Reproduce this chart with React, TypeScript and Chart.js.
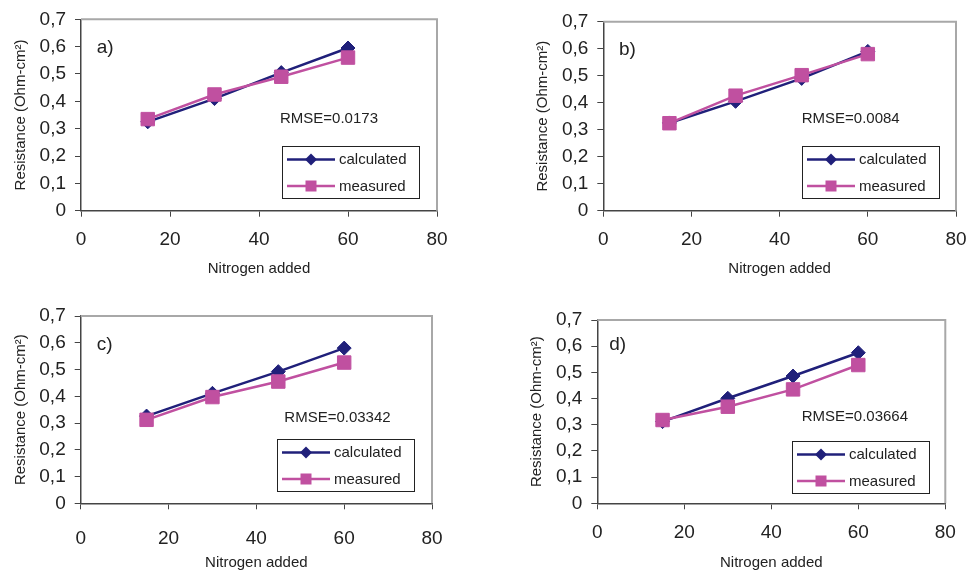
import React, { useEffect, useRef } from 'react';
import { Chart, registerables } from 'chart.js';

Chart.register(...registerables);

// ---------- data ----------
const nitrogen = [15, 30, 45, 60];
const seriesNames = ['calculated', 'measured'];
const panelLabels = ['a)', 'b)', 'c)', 'd)'];
const rmseLabels = ['RMSE=0.0173', 'RMSE=0.0084', 'RMSE=0.03342', 'RMSE=0.03664'];

const calculatedA = [0.325, 0.41, 0.505, 0.595];
const measuredA = [0.335, 0.425, 0.49, 0.56];
const calculatedB = [0.325, 0.405, 0.49, 0.59];
const measuredB = [0.324, 0.426, 0.502, 0.58];
const calculatedC = [0.326, 0.411, 0.492, 0.58];
const measuredC = [0.312, 0.397, 0.455, 0.526];
const calculatedD = [0.312, 0.401, 0.486, 0.575];
const measuredD = [0.318, 0.369, 0.435, 0.528];

const xTickValues = [0, 20, 40, 60, 80];
const xTickLabels = ['0', '20', '40', '60', '80'];
const yTickValues = [0, 0.1, 0.2, 0.3, 0.4, 0.5, 0.6, 0.7];
const yTickLabels = ['0', '0,1', '0,2', '0,3', '0,4', '0,5', '0,6', '0,7'];
const xTitle = 'Nitrogen added';
const yTitle = 'Resistance (Ohm-cm\u00B2)';

// ---------- styles / layout ----------
const FONT = '"Liberation Sans", Arial, Helvetica, sans-serif';
const NAVY = '#20207a';
const MAGENTA = '#c050a0';
const AXIS = '#444444';
const TEXT = '#222222';

const seriesSets = [
  [calculatedA, measuredA],
  [calculatedB, measuredB],
  [calculatedC, measuredC],
  [calculatedD, measuredD],
];

const geometry = [
  { canvas: { x: 0, y: 0, w: 484, h: 285 }, area: { l: 81, t: 19.3, r: 437, b: 210.7 }, xTitleY: 269, xLabelOff: 28.6,
    label: { dx: 15.7, dy: 28.4 }, rmse: { dx: 199, dy: 100 }, legend: { dx: 200.7, dy: 126.7 } },
  { canvas: { x: 484, y: 0, w: 485, h: 285 }, area: { l: 603.3, t: 21.7, r: 956, b: 210.7 }, xTitleY: 269.3, xLabelOff: 28.6,
    label: { dx: 15.7, dy: 27.6 }, rmse: { dx: 198.4, dy: 97.3 }, legend: { dx: 198.4, dy: 124.3 } },
  { canvas: { x: 0, y: 285, w: 484, h: 287 }, area: { l: 80.7, t: 316, r: 432, b: 503.3 }, xTitleY: 562.7, xLabelOff: 35,
    label: { dx: 16, dy: 29 }, rmse: { dx: 203.6, dy: 101.7 }, legend: { dx: 196.6, dy: 123 } },
  { canvas: { x: 484, y: 285, w: 485, h: 287 }, area: { l: 597.3, t: 320, r: 945.3, b: 503.3 }, xTitleY: 562.7, xLabelOff: 29.4,
    label: { dx: 12, dy: 25 }, rmse: { dx: 204.4, dy: 96.7 }, legend: { dx: 194.4, dy: 120.7 } },
];

const overlayPlugin = {
  id: 'overlay',
  afterDraw(chart: any, _args: any, opts: any) {
    const { ctx, chartArea: a } = chart;
    ctx.save();
    // grey frame top & right
    ctx.strokeStyle = '#a8a8a8';
    ctx.lineWidth = 2;
    ctx.beginPath();
    ctx.moveTo(a.left, a.top);
    ctx.lineTo(a.right, a.top);
    ctx.lineTo(a.right, a.bottom);
    ctx.stroke();

    // panel label
    ctx.fillStyle = TEXT;
    ctx.textBaseline = 'middle';
    ctx.textAlign = 'left';
    ctx.font = `19px ${FONT}`;
    ctx.fillText(opts.label, a.left + opts.labelPos.dx, a.top + opts.labelPos.dy);

    // RMSE text
    ctx.font = `15px ${FONT}`;
    ctx.fillText(opts.rmse, a.left + opts.rmsePos.dx, a.top + opts.rmsePos.dy);

    // legend
    const lx = Math.round(a.left + opts.legendPos.dx);
    const ly = Math.round(a.top + opts.legendPos.dy);
    const lw = 138, lh = 53;
    ctx.fillStyle = '#ffffff';
    ctx.fillRect(lx, ly, lw, lh);
    ctx.strokeStyle = '#222222';
    ctx.lineWidth = 1;
    ctx.strokeRect(lx + 0.5, ly + 0.5, lw - 1, lh - 1);

    const rows = [13.5, 40];
    const colors = [NAVY, MAGENTA];
    rows.forEach((ry, i) => {
      const y = ly + ry;
      ctx.strokeStyle = colors[i];
      ctx.lineWidth = 2.5;
      ctx.beginPath();
      ctx.moveTo(lx + 5, y);
      ctx.lineTo(lx + 53, y);
      ctx.stroke();
      ctx.fillStyle = colors[i];
      const mx = lx + 29;
      if (i === 0) {
        const r = 6;
        ctx.beginPath();
        ctx.moveTo(mx, y - r);
        ctx.lineTo(mx + r, y);
        ctx.lineTo(mx, y + r);
        ctx.lineTo(mx - r, y);
        ctx.closePath();
        ctx.fill();
      } else {
        const s = 5.5;
        ctx.fillRect(mx - s, y - s, 2 * s, 2 * s);
      }
      ctx.fillStyle = TEXT;
      ctx.font = `15px ${FONT}`;
      ctx.textBaseline = 'middle';
      ctx.fillText(opts.names[i], lx + 57, y + 0.5);
    });
    ctx.restore();
  },
};

function Panel({ index }: { index: number }) {
  const ref = useRef<HTMLCanvasElement>(null);
  const g = geometry[index];

  useEffect(() => {
    if (!ref.current) return;
    const yW = 69;
    const xH = g.xTitleY - g.area.b + 9;
    const padding = {
      left: g.area.l - g.canvas.x - yW,
      top: g.area.t - g.canvas.y,
      right: g.canvas.x + g.canvas.w - g.area.r,
      bottom: Math.max(0, g.canvas.y + g.canvas.h - g.area.b - xH),
    };
    const tickLen = 6;
    const xTickPad = g.xLabelOff - tickLen - 11.4;
    const [calc, meas] = seriesSets[index];

    const gridOpts = {
      display: true,
      drawOnChartArea: false,
      drawTicks: true,
      tickLength: tickLen,
      color: AXIS,
      lineWidth: 1,
    };
    const borderOpts = { display: true, color: AXIS, width: 1.5 };

    const chart = new Chart(ref.current, {
      type: 'line',
      data: {
        datasets: [
          {
            label: seriesNames[0],
            data: nitrogen.map((x, i) => ({ x, y: calc[i] })),
            borderColor: NAVY,
            backgroundColor: NAVY,
            borderWidth: 2.5,
            pointStyle: 'rectRot',
            pointRadius: 7,
            pointBorderWidth: 1,
            tension: 0,
            order: 1,
          },
          {
            label: seriesNames[1],
            data: nitrogen.map((x, i) => ({ x, y: meas[i] })),
            borderColor: MAGENTA,
            backgroundColor: MAGENTA,
            borderWidth: 2.5,
            pointStyle: 'rect',
            pointRadius: 9.5,
            pointBorderWidth: 1,
            tension: 0,
            order: 0,
          },
        ],
      },
      options: {
        responsive: false,
        animation: false,
        events: [],
        layout: { padding },
        plugins: {
          legend: { display: false },
          tooltip: { enabled: false },
          overlay: {
            label: panelLabels[index],
            rmse: rmseLabels[index],
            names: seriesNames,
            labelPos: g.label,
            rmsePos: g.rmse,
            legendPos: g.legend,
          },
        } as any,
        scales: {
          x: {
            type: 'linear',
            min: 0,
            max: 80,
            afterBuildTicks: (s: any) => {
              s.ticks = xTickValues.map((v) => ({ value: v }));
            },
            afterFit: (s: any) => {
              s.height = xH;
              s.paddingLeft = 0;
              s.paddingRight = 0;
            },
            ticks: {
              autoSkip: false,
              maxRotation: 0,
              padding: xTickPad,
              color: TEXT,
              font: { family: FONT, size: 19 },
              callback: (_v: any, i: number) => xTickLabels[i],
            },
            grid: gridOpts,
            border: borderOpts,
            title: {
              display: true,
              text: xTitle,
              color: TEXT,
              padding: 0,
              font: { family: FONT, size: 15 },
            },
          },
          y: {
            type: 'linear',
            min: 0,
            max: 0.7,
            afterBuildTicks: (s: any) => {
              s.ticks = yTickValues.map((v) => ({ value: v }));
            },
            afterFit: (s: any) => {
              s.width = yW;
              s.paddingTop = 0;
              s.paddingBottom = 0;
            },
            ticks: {
              autoSkip: false,
              padding: 9,
              color: TEXT,
              font: { family: FONT, size: 19 },
              callback: (_v: any, i: number) => yTickLabels[i],
            },
            grid: gridOpts,
            border: borderOpts,
            title: {
              display: true,
              text: yTitle,
              color: TEXT,
              padding: 0,
              font: { family: FONT, size: 15 },
            },
          },
        },
      } as any,
      plugins: [overlayPlugin as any],
    });
    return () => chart.destroy();
  }, [index]);

  return (
    <canvas
      ref={ref}
      width={g.canvas.w}
      height={g.canvas.h}
      style={{
        position: 'absolute',
        left: g.canvas.x,
        top: g.canvas.y,
        width: g.canvas.w,
        height: g.canvas.h,
        display: 'block',
      }}
    />
  );
}

export default function App() {
  return (
    <div
      style={{
        position: 'absolute',
        left: 0,
        top: 0,
        width: 969,
        height: 571,
        overflow: 'hidden',
        background: '#ffffff',
      }}
    >
      {[0, 1, 2, 3].map((i) => (
        <Panel key={i} index={i} />
      ))}
    </div>
  );
}
